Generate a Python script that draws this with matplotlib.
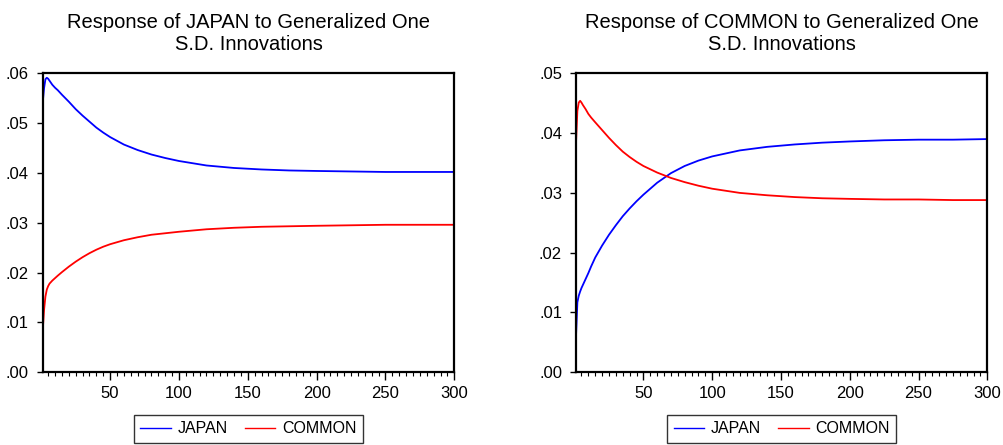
import matplotlib
matplotlib.use("Agg")
import matplotlib.pyplot as plt
from matplotlib.ticker import FuncFormatter, MultipleLocator

plt.rcParams['font.family'] = ['Liberation Sans', 'DejaVu Sans']

periods = [1, 2, 3, 4, 5, 6, 8, 10, 12, 15, 20, 25, 30, 35, 40, 45, 50, 60, 70, 80, 90, 100,
           120, 140, 160, 180, 200, 225, 250, 275, 300]

# Response of JAPAN
japan_japan = [.0540, .0570, .0588, .0591, .0589, .0585, .0577, .0571, .0566, .0557, .0543,
               .0528, .0515, .0503, .0491, .0481, .0472, .0457, .0446, .0437, .0430, .0424,
               .0415, .0410, .0407, .0405, .0404, .0403, .0402, .0402, .0402]
japan_common = [.0082, .0125, .0152, .0166, .0173, .0178, .0184, .0189, .0194, .0201, .0212,
                .0222, .0231, .0239, .0246, .0252, .0257, .0265, .0271, .0276, .0279, .0282,
                .0287, .0290, .0292, .0293, .0294, .0295, .0296, .0296, .0296]

# Response of COMMON
common_japan = [.0060, .0117, .0128, .0135, .0141, .0146, .0156, .0166, .0177, .0192, .0212,
                .0230, .0246, .0261, .0274, .0286, .0297, .0317, .0333, .0345, .0354, .0361,
                .0371, .0377, .0381, .0384, .0386, .0388, .0389, .0389, .0390]
common_common = [.0383, .0437, .0451, .0454, .0451, .0447, .0440, .0432, .0426, .0418, .0405,
                 .0392, .0380, .0369, .0360, .0352, .0345, .0334, .0325, .0318, .0312, .0307,
                 .0300, .0296, .0293, .0291, .0290, .0289, .0289, .0288, .0288]

titles = ["Response of JAPAN to Generalized One\nS.D. Innovations",
          "Response of COMMON to Generalized One\nS.D. Innovations"]
series_names = ["JAPAN", "COMMON"]
yticks_sets = [[0, .01, .02, .03, .04, .05, .06], [0, .01, .02, .03, .04, .05]]
xticks = [50, 100, 150, 200, 250, 300]

panels = [(japan_japan, japan_common), (common_japan, common_common)]

fig = plt.figure(figsize=(10.04, 4.45), dpi=100)
positions = [[0.0425, 0.1634, 0.410, 0.6719], [0.5737, 0.1634, 0.4097, 0.6719]]

fmt = FuncFormatter(lambda v, p: ("%.2f" % v).lstrip("0") if v >= 0 else "%.2f" % v)

for i, (pos, (s1, s2)) in enumerate(zip(positions, panels)):
    ax = fig.add_axes(pos)
    l1, = ax.plot(periods, s1, color=(0, 0, 1), lw=1.3, label=series_names[0])
    l2, = ax.plot(periods, s2, color=(1, 0, 0), lw=1.3, label=series_names[1])
    ax.set_xlim(1, 300)
    yt = yticks_sets[i]
    ax.set_ylim(yt[0], yt[-1])
    ax.set_yticks(yt)
    ax.yaxis.set_major_formatter(fmt)
    ax.set_xticks(xticks)
    ax.xaxis.set_minor_locator(MultipleLocator(5))
    ax.tick_params(axis='both', which='major', direction='out', width=1,
                   labelsize=12, colors='black')
    ax.tick_params(axis='x', which='major', length=6, pad=4)
    ax.tick_params(axis='y', which='major', length=4, pad=6)
    ax.tick_params(axis='x', which='minor', direction='out', length=3, width=0.8)
    for sp in ax.spines.values():
        sp.set_linewidth(1.6)
        sp.set_color('black')
    ax.set_title(titles[i], fontsize=14.5, pad=17, linespacing=1.15)
    leg = ax.legend(handles=[l1, l2], loc='upper center', bbox_to_anchor=(0.5, -0.143),
                    ncol=2, frameon=True, fancybox=False, edgecolor='black',
                    fontsize=11.5, handlelength=1.9, handletextpad=0.42,
                    columnspacing=1.1, borderpad=0.4, borderaxespad=0)
    leg.get_frame().set_linewidth(1.0)
    for h in leg.get_lines():
        h.set_linewidth(1.0)

fig.savefig("out.png", dpi=100)
